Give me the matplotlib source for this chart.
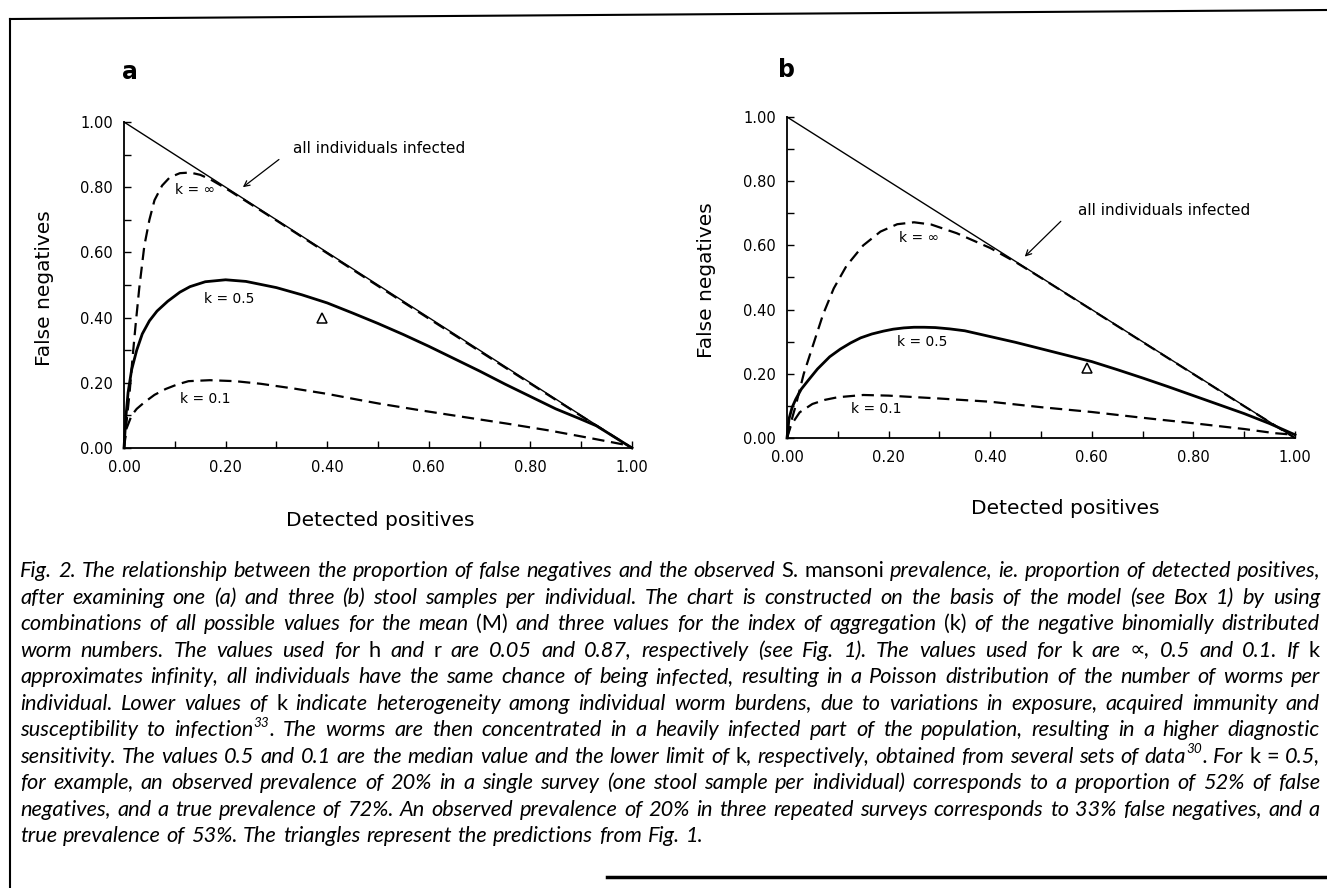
import matplotlib
matplotlib.use("Agg")
import matplotlib.pyplot as plt
from matplotlib.lines import Line2D
from matplotlib.transforms import IdentityTransform

W, H = 1327, 888

# ---- panel a: one stool sample -------------------------------------------
a_inf_x = [0.0, 0.005, 0.011, 0.017, 0.023, 0.030, 0.040, 0.050, 0.060, 0.075,
           0.090, 0.110, 0.130, 0.150, 0.170, 0.190, 0.210, 0.30, 0.50, 0.70, 0.90, 1.0]
a_inf_y = [0.0, 0.08, 0.17, 0.28, 0.38, 0.49, 0.62, 0.70, 0.76, 0.805,
           0.830, 0.843, 0.845, 0.838, 0.824, 0.806, 0.787, 0.698, 0.497, 0.297, 0.098, 0.0]

a_k05_x = [0.0, 0.004, 0.008, 0.015, 0.025, 0.036, 0.050, 0.065, 0.086, 0.110, 0.130,
           0.160, 0.200, 0.240, 0.300, 0.350, 0.400, 0.450, 0.500, 0.550, 0.600, 0.650,
           0.700, 0.750, 0.800, 0.850, 0.900, 0.930, 1.0]
a_k05_y = [0.0, 0.10, 0.17, 0.24, 0.30, 0.35, 0.39, 0.42, 0.45, 0.478, 0.495,
           0.510, 0.516, 0.511, 0.492, 0.470, 0.445, 0.414, 0.382, 0.348, 0.312, 0.274,
           0.236, 0.196, 0.158, 0.120, 0.088, 0.068, 0.0]

a_k01_x = [0.0, 0.005, 0.015, 0.025, 0.040, 0.060, 0.082, 0.105, 0.127, 0.169, 0.219, 0.269, 0.336,
           0.400, 0.461, 0.503, 0.586, 0.669, 0.753, 0.836, 0.919, 0.986, 1.0]
a_k01_y = [0.0, 0.06, 0.10, 0.12, 0.140, 0.163, 0.181, 0.195, 0.205, 0.208, 0.205, 0.197, 0.182,
           0.166, 0.148, 0.136, 0.115, 0.095, 0.075, 0.054, 0.030, 0.010, 0.0]

a_tri = (0.39, 0.40)

# ---- panel b: three stool samples ----------------------------------------
b_inf_x = [0.0, 0.008, 0.017, 0.033, 0.050, 0.071, 0.092, 0.117, 0.150, 0.184, 0.217,
           0.250, 0.284, 0.334, 0.400, 0.450, 0.500, 0.700, 0.900, 1.0]
b_inf_y = [0.0, 0.05, 0.10, 0.20, 0.283, 0.385, 0.466, 0.536, 0.600, 0.643, 0.666,
           0.672, 0.665, 0.638, 0.592, 0.548, 0.499, 0.299, 0.099, 0.0]

b_k05_x = [0.0, 0.004, 0.010, 0.017, 0.028, 0.042, 0.060, 0.084, 0.105, 0.125, 0.145, 0.167,
           0.190, 0.209, 0.230, 0.250, 0.270, 0.292, 0.320, 0.350, 0.400, 0.450, 0.500,
           0.550, 0.600, 0.650, 0.700, 0.750, 0.800, 0.850, 0.900, 0.950, 1.0]
b_k05_y = [0.0, 0.06, 0.095, 0.12, 0.152, 0.18, 0.215, 0.253, 0.277, 0.296, 0.312, 0.324,
           0.333, 0.339, 0.343, 0.345, 0.345, 0.344, 0.340, 0.334, 0.316, 0.298, 0.278,
           0.258, 0.238, 0.213, 0.187, 0.160, 0.132, 0.104, 0.076, 0.045, 0.01]

b_k01_x = [0.0, 0.008, 0.025, 0.050, 0.075, 0.100, 0.150, 0.200, 0.300, 0.400, 0.500,
           0.600, 0.700, 0.800, 0.900, 0.960, 1.0]
b_k01_y = [0.0, 0.04, 0.08, 0.106, 0.119, 0.127, 0.134, 0.132, 0.123, 0.113, 0.096,
           0.081, 0.063, 0.046, 0.028, 0.015, 0.01]

b_tri = (0.59, 0.218)

ticks = [0.0, 0.2, 0.4, 0.6, 0.8, 1.0]
tick_labels = ["0.00", "0.20", "0.40", "0.60", "0.80", "1.00"]
minor_ticks = [0.1, 0.3, 0.5, 0.7, 0.9]

caption = [
    "Fig. 2. The relationship between the proportion of false negatives and the observed ~S. ~mansoni prevalence, ie. proportion of detected positives,",
    "after examining one (a) and three (b) stool samples per individual. The chart is constructed on the basis of the model (see Box 1) by using",
    "combinations of all possible values for the mean ~(M) and three values for the index of aggregation ~(k) of the negative binomially distributed",
    "worm numbers. The values used for ~h and ~r are 0.05 and 0.87, respectively (see Fig. 1). The values used for ~k are \u221d, 0.5 and 0.1. If ~k",
    "approximates infinity, all individuals have the same chance of being infected, resulting in a Poisson distribution of the number of worms per",
    "individual. Lower values of ~k indicate heterogeneity among individual worm burdens, due to variations in exposure, acquired immunity and",
    "susceptibility to infection^33^. The worms are then concentrated in a heavily infected part of the population, resulting in a higher diagnostic",
    "sensitivity. The values 0.5 and 0.1 are the median value and the lower limit of ~k, respectively, obtained from several sets of data^30^. For ~k ~= 0.5,",
    "for example, an observed prevalence of 20% in a single survey (one stool sample per individual) corresponds to a proportion of 52% of false",
    "negatives, and a true prevalence of 72%. An observed prevalence of 20% in three repeated surveys corresponds to 33% false negatives, and a",
    "true prevalence of 53%. The triangles represent the predictions from Fig. 1.",
]

fig = plt.figure(figsize=(W / 100, H / 100), dpi=100)
px = IdentityTransform()


def panel(rect, inf, k05, k01, tri, lab_inf, lab05, lab01, txt_xy, arr_from, arr_to):
    ax = fig.add_axes(rect)
    ax.set_xlim(0, 1)
    ax.set_ylim(0, 1)
    for s in ("top", "right"):
        ax.spines[s].set_visible(False)
    for s in ("left", "bottom"):
        ax.spines[s].set_linewidth(1.3)
    ax.set_xticks(ticks)
    ax.set_xticklabels(tick_labels)
    ax.set_yticks(ticks)
    ax.set_yticklabels(tick_labels)
    ax.set_xticks(minor_ticks, minor=True)
    ax.set_yticks(minor_ticks, minor=True)
    ax.tick_params(which="both", direction="in", length=5, width=1.0)
    ax.tick_params(axis="x", pad=9, labelsize=10.5)
    ax.tick_params(axis="y", pad=8, labelsize=10.5)

    ax.plot([0, 1], [1, 0], color="black", lw=1.0, clip_on=False)
    dash = (0, (5.5, 3))
    ax.plot(inf[0], inf[1], color="black", lw=1.6, ls=dash, clip_on=False)
    ax.plot(k05[0], k05[1], color="black", lw=2.0, clip_on=False)
    ax.plot(k01[0], k01[1], color="black", lw=1.6, ls=dash, clip_on=False)
    ax.plot([tri[0]], [tri[1]], marker="^", ms=7, mfc="none", mec="black", mew=1.1)

    for (x, y, s) in (lab_inf, lab05, lab01):
        ax.text(x, y, s, ha="center", va="center", fontsize=10)
    ax.text(txt_xy[0], txt_xy[1], "all individuals infected", ha="left",
            va="center", fontsize=11)
    ax.annotate("", xy=arr_to, xytext=arr_from,
                arrowprops=dict(arrowstyle="->", lw=0.9, color="black",
                                shrinkA=0, shrinkB=0))
    return ax


panel([124 / W, 1 - 448 / H, 508 / W, 326 / H],
      (a_inf_x, a_inf_y), (a_k05_x, a_k05_y), (a_k01_x, a_k01_y), a_tri,
      (0.14, 0.79, "k = \u221e"), (0.207, 0.458, "k = 0.5"), (0.16, 0.151, "k = 0.1"),
      (0.332, 0.918), (0.305, 0.885), (0.234, 0.800))

panel([787 / W, 1 - 438 / H, 508 / W, 321 / H],
      (b_inf_x, b_inf_y), (b_k05_x, b_k05_y), (b_k01_x, b_k01_y), b_tri,
      (0.26, 0.622, "k = \u221e"), (0.267, 0.300, "k = 0.5"), (0.175, 0.089, "k = 0.1"),
      (0.572, 0.708), (0.539, 0.675), (0.468, 0.565))

# panel letters and axis titles
fig.text(130 / W, 1 - 72 / H, "a", fontsize=17, fontweight="bold", ha="center", va="center")
fig.text(787 / W, 1 - 70 / H, "b", fontsize=17, fontweight="bold", ha="center", va="center")
fig.text(45 / W, 1 - 288 / H, "False negatives", rotation=90, fontsize=14.5, ha="center", va="center")
fig.text(707 / W, 1 - 280 / H, "False negatives", rotation=90, fontsize=14.5, ha="center", va="center")
fig.text(380 / W, 1 - 520 / H, "Detected positives", fontsize=14.5, ha="center", va="center")
fig.text(1065 / W, 1 - 508 / H, "Detected positives", fontsize=14.5, ha="center", va="center")

# frame of the scanned page
fig.add_artist(Line2D([10, 10], [0, H - 19], color="black", lw=1.5, transform=px))
fig.add_artist(Line2D([10, W], [H - 19, H - 10], color="black", lw=1.5, transform=px))
fig.add_artist(Line2D([607, W], [H - 877, H - 877], color="black", lw=2.5, transform=px))

# justified italic caption, word by word
renderer = fig.canvas.get_renderer()
cap_family = ["Lato", "DejaVu Sans"]
cap_size = 14.0
left, right = 20, 1320
base0, lead = H - 577, 26.5


def make_token(tok, size):
    parts = []
    for i, seg in enumerate(tok.split("^")):
        if not seg:
            continue
        sup = i % 2 == 1
        upright = seg.startswith("~")
        seg = seg.lstrip("~")
        t = fig.text(0, 0, seg, transform=px, family=cap_family, va="baseline",
                     fontsize=size * 0.62 if sup else size,
                     fontstyle="normal" if upright else "italic")
        parts.append((t, sup, t.get_window_extent(renderer).width))
    return parts


# pick the size so the widest line fits with normal spacing
widest = 0
for line in caption:
    toks = [make_token(w, cap_size) for w in line.split(" ")]
    tw = sum(p[2] for tk in toks for p in tk) + 0.25 * cap_size * 100 / 72 * (len(toks) - 1)
    widest = max(widest, tw)
    for tk in toks:
        for p in tk:
            p[0].remove()
cap_size = cap_size * (right - left) / widest * 0.995

for li, line in enumerate(caption):
    toks = [make_token(w, cap_size) for w in line.split(" ")]
    widths = [sum(p[2] for p in tk) for tk in toks]
    if li < len(caption) - 1:
        gap = (right - left - sum(widths)) / (len(toks) - 1)
    else:
        gap = 0.27 * cap_size * 100 / 72
    y = base0 - li * lead
    x = left
    for tk, w in zip(toks, widths):
        xx = x
        for t, sup, pw in tk:
            t.set_position((xx, y + (0.42 * cap_size * 100 / 72 if sup else 0)))
            xx += pw
        x += w + gap

fig.savefig("out.png", dpi=100)
